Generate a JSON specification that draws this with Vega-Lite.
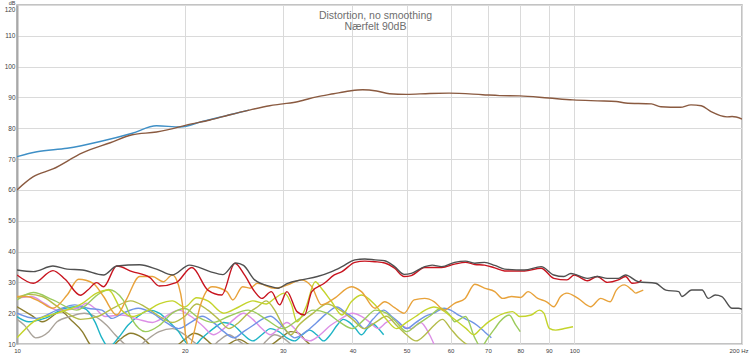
{
  "$schema": "https://vega.github.io/schema/vega-lite/v6.json",
  "autosize": "none",
  "width": 725,
  "height": 339,
  "padding": {"left": 17, "top": 5, "right": 8, "bottom": 10},
  "background": "white",
  "config": {
    "view": {"stroke": "#b0b0b0", "strokeWidth": 1.5},
    "font": "Liberation Sans",
    "axis": {"labelFont": "Liberation Sans", "labelFontSize": 6.5, "labelColor": "#404040", "ticks": false, "labelPadding": 2, "gridColor": "#dadada", "gridWidth": 1, "domain": false, "titleFont": "Liberation Sans", "titleFontSize": 6.5, "titleFontWeight": "normal", "titleColor": "#404040"}
  },
  "title": {
    "text": "Distortion, no smoothing",
    "subtitle": "Nærfelt 90dB",
    "anchor": "middle",
    "offset": -32,
    "dx": -4,
    "fontSize": 10.5,
    "fontWeight": "normal",
    "color": "#6e6e6e",
    "subtitleFontSize": 10.5,
    "subtitleColor": "#6e6e6e",
    "subtitlePadding": 0,
    "font": "Liberation Sans",
    "subtitleFont": "Liberation Sans"
  },
  "data": {"values": [
    {"s":"01","f":10,"v":22.1},{"s":"01","f":10.6,"v":19.4},{"s":"01","f":11.1,"v":17.2},{"s":"01","f":12,"v":20.5},{"s":"01","f":12.5,"v":17.8},{"s":"01","f":13.1,"v":14},{"s":"01","f":13.5,"v":10},{"s":"01","f":13.9,"v":7},{"s":"01","f":14.6,"v":8},{"s":"01","f":15.2,"v":11},{"s":"01","f":16,"v":13.5},{"s":"01","f":16.8,"v":12},{"s":"01","f":17.5,"v":9},{"s":"01","f":18.3,"v":7.5},{"s":"01","f":19.2,"v":9},{"s":"01","f":20,"v":11.5},{"s":"01","f":20.8,"v":13.5},{"s":"01","f":21.5,"v":12.5},{"s":"01","f":22.3,"v":10},{"s":"01","f":23,"v":8},{"s":"01","f":24,"v":10},{"s":"01","f":25,"v":11.5},{"s":"01","f":26,"v":10},{"s":"01","f":27,"v":8},{"s":"01","f":28,"v":8.5},{"s":"01","f":29,"v":10.5},{"s":"01","f":30,"v":12.5},{"s":"01","f":31,"v":14},{"s":"01","f":32,"v":13.5},{"s":"01","f":33,"v":11},{"s":"01","f":34,"v":9},{"s":"01","f":35,"v":8},
    {"s":"02","f":10,"v":18},{"s":"02","f":10.3,"v":16.2},{"s":"02","f":10.8,"v":12},{"s":"02","f":11.4,"v":14},{"s":"02","f":11.8,"v":17.2},{"s":"02","f":12.5,"v":19},{"s":"02","f":13.2,"v":20},{"s":"02","f":13.8,"v":19},{"s":"02","f":14.5,"v":16},{"s":"02","f":15,"v":13},{"s":"02","f":15.6,"v":10},{"s":"02","f":16.2,"v":8},{"s":"02","f":17,"v":11},{"s":"02","f":18,"v":14},{"s":"02","f":19,"v":15},{"s":"02","f":20,"v":13},{"s":"02","f":21,"v":10},{"s":"02","f":22,"v":8},{"s":"02","f":23,"v":11},{"s":"02","f":24,"v":13},{"s":"02","f":25,"v":11},{"s":"02","f":26,"v":9},{"s":"02","f":27,"v":8},{"s":"02","f":28,"v":11},{"s":"02","f":29,"v":13},{"s":"02","f":30,"v":12},{"s":"02","f":31,"v":10},{"s":"02","f":32,"v":8},
    {"s":"03","f":10,"v":18.9},{"s":"03","f":10.5,"v":17.2},{"s":"03","f":11.2,"v":18.3},{"s":"03","f":12.2,"v":21.6},{"s":"03","f":12.7,"v":22.1},{"s":"03","f":13.2,"v":21.6},{"s":"03","f":13.8,"v":17.2},{"s":"03","f":14.2,"v":12},{"s":"03","f":14.6,"v":9},{"s":"03","f":15.2,"v":12},{"s":"03","f":15.8,"v":16},{"s":"03","f":16.5,"v":19},{"s":"03","f":17.3,"v":21},{"s":"03","f":18,"v":20},{"s":"03","f":18.8,"v":17},{"s":"03","f":19.5,"v":14},{"s":"03","f":20,"v":11},{"s":"03","f":20.6,"v":9},{"s":"03","f":21.5,"v":12},{"s":"03","f":22.5,"v":15},{"s":"03","f":23.5,"v":17},{"s":"03","f":24.5,"v":16},{"s":"03","f":25.5,"v":13},{"s":"03","f":26.5,"v":11},{"s":"03","f":27.5,"v":13},{"s":"03","f":28.5,"v":15},{"s":"03","f":29.5,"v":14},{"s":"03","f":30.5,"v":12},{"s":"03","f":31.5,"v":11},{"s":"03","f":32.5,"v":13},{"s":"03","f":33.5,"v":14.5},{"s":"03","f":34.5,"v":13},{"s":"03","f":35.5,"v":11},{"s":"03","f":36.5,"v":13},{"s":"03","f":37.5,"v":16},{"s":"03","f":38.5,"v":18},{"s":"03","f":39.5,"v":17},{"s":"03","f":40.5,"v":15},{"s":"03","f":41.5,"v":13},{"s":"03","f":42.5,"v":15},{"s":"03","f":43.5,"v":16.5},{"s":"03","f":44.5,"v":15},{"s":"03","f":45.5,"v":13},
    {"s":"04","f":10,"v":24.8},{"s":"04","f":10.6,"v":25.4},{"s":"04","f":11.2,"v":23.2},{"s":"04","f":11.8,"v":21},{"s":"04","f":12.9,"v":21.6},{"s":"04","f":13.3,"v":23.2},{"s":"04","f":13.8,"v":21.6},{"s":"04","f":14.4,"v":18.9},{"s":"04","f":15.4,"v":19.4},{"s":"04","f":16.5,"v":18},{"s":"04","f":17.5,"v":17},{"s":"04","f":18.5,"v":19},{"s":"04","f":19.5,"v":21},{"s":"04","f":20.5,"v":19},{"s":"04","f":21.5,"v":16},{"s":"04","f":22.5,"v":13},{"s":"04","f":23.5,"v":15},{"s":"04","f":24.5,"v":18},{"s":"04","f":25.5,"v":20},{"s":"04","f":26.5,"v":18},{"s":"04","f":27.5,"v":15},{"s":"04","f":28.5,"v":13},{"s":"04","f":29.5,"v":15},{"s":"04","f":30.5,"v":17},{"s":"04","f":31.5,"v":15},{"s":"04","f":32.5,"v":12},{"s":"04","f":33.5,"v":11},{"s":"04","f":35,"v":13},{"s":"04","f":36.5,"v":16},{"s":"04","f":38,"v":18},{"s":"04","f":40,"v":20},{"s":"04","f":41.5,"v":19},{"s":"04","f":43,"v":17},{"s":"04","f":44.5,"v":15},{"s":"04","f":46,"v":17},{"s":"04","f":47.5,"v":18},{"s":"04","f":49,"v":16},{"s":"04","f":51,"v":15},{"s":"04","f":53,"v":17},{"s":"04","f":55,"v":13},{"s":"04","f":56,"v":10},
    {"s":"05","f":10,"v":20},{"s":"05","f":10.8,"v":18.3},{"s":"05","f":11.8,"v":21},{"s":"05","f":12.7,"v":22.7},{"s":"05","f":13.4,"v":21.6},{"s":"05","f":14.2,"v":21},{"s":"05","f":14.8,"v":18.3},{"s":"05","f":15.5,"v":20},{"s":"05","f":16.5,"v":21.6},{"s":"05","f":17.5,"v":20},{"s":"05","f":18.5,"v":17},{"s":"05","f":19.5,"v":15},{"s":"05","f":20.5,"v":17},{"s":"05","f":21.5,"v":19},{"s":"05","f":22.5,"v":17},{"s":"05","f":23.5,"v":14},{"s":"05","f":24.5,"v":12},{"s":"05","f":25.5,"v":14},{"s":"05","f":26.5,"v":16},{"s":"05","f":27.5,"v":18},{"s":"05","f":28.5,"v":19},{"s":"05","f":29.5,"v":17},{"s":"05","f":30.5,"v":14},{"s":"05","f":31.5,"v":12},{"s":"05","f":33,"v":14},{"s":"05","f":34.5,"v":17},{"s":"05","f":36,"v":20},{"s":"05","f":37.5,"v":22},{"s":"05","f":39,"v":20},{"s":"05","f":40.5,"v":18},{"s":"05","f":42,"v":15},{"s":"05","f":43.5,"v":18},{"s":"05","f":45.5,"v":21},{"s":"05","f":47,"v":19},{"s":"05","f":48.5,"v":17},{"s":"05","f":50,"v":15},{"s":"05","f":52,"v":17},{"s":"05","f":54,"v":19},{"s":"05","f":56,"v":20},{"s":"05","f":58.4,"v":21.6},{"s":"05","f":60,"v":21},{"s":"05","f":62,"v":19.4},{"s":"05","f":64,"v":18},{"s":"05","f":65.5,"v":17.2},{"s":"05","f":67,"v":16},{"s":"05","f":69,"v":14},{"s":"05","f":71,"v":12},
    {"s":"06","f":10,"v":25},{"s":"06","f":10.5,"v":26.1},{"s":"06","f":11.1,"v":25.4},{"s":"06","f":11.7,"v":22.7},{"s":"06","f":12.3,"v":20},{"s":"06","f":13,"v":18},{"s":"06","f":14,"v":19},{"s":"06","f":15,"v":22},{"s":"06","f":16,"v":24},{"s":"06","f":17,"v":22},{"s":"06","f":18,"v":19},{"s":"06","f":19,"v":17},{"s":"06","f":20,"v":19},{"s":"06","f":21,"v":23},{"s":"06","f":22,"v":21},{"s":"06","f":23,"v":18},{"s":"06","f":24,"v":15},{"s":"06","f":25,"v":17},{"s":"06","f":26,"v":20},{"s":"06","f":27,"v":22},{"s":"06","f":28,"v":24},{"s":"06","f":29,"v":21},{"s":"06","f":30,"v":16},{"s":"06","f":31,"v":13},{"s":"06","f":32,"v":16},{"s":"06","f":34,"v":20},{"s":"06","f":36,"v":23},{"s":"06","f":38,"v":21},{"s":"06","f":40,"v":18},{"s":"06","f":42,"v":15},{"s":"06","f":44,"v":17},{"s":"06","f":46,"v":19},{"s":"06","f":48,"v":16},{"s":"06","f":50,"v":13},{"s":"06","f":52,"v":11},{"s":"06","f":54,"v":13},{"s":"06","f":56,"v":16},{"s":"06","f":58,"v":18},{"s":"06","f":60,"v":15},{"s":"06","f":62,"v":12},{"s":"06","f":64,"v":10},{"s":"06","f":66,"v":9},
    {"s":"07","f":10,"v":24.3},{"s":"07","f":10.7,"v":26.7},{"s":"07","f":11.6,"v":24.3},{"s":"07","f":12.8,"v":21},{"s":"07","f":14.1,"v":26.5},{"s":"07","f":14.6,"v":27.7},{"s":"07","f":15.5,"v":24.3},{"s":"07","f":16.1,"v":17.8},{"s":"07","f":17,"v":14},{"s":"07","f":18,"v":16},{"s":"07","f":19,"v":20},{"s":"07","f":20,"v":21.5},{"s":"07","f":21,"v":19},{"s":"07","f":22.5,"v":17},{"s":"07","f":24,"v":19},{"s":"07","f":26,"v":21},{"s":"07","f":28,"v":18},{"s":"07","f":30,"v":15},{"s":"07","f":32,"v":18},{"s":"07","f":34,"v":21},{"s":"07","f":36,"v":20},{"s":"07","f":38,"v":17},{"s":"07","f":40,"v":15},{"s":"07","f":42,"v":18},{"s":"07","f":44,"v":21},{"s":"07","f":46,"v":20},{"s":"07","f":48,"v":17},{"s":"07","f":50,"v":14},{"s":"07","f":52,"v":16},{"s":"07","f":55,"v":19},{"s":"07","f":57.7,"v":21.6},{"s":"07","f":60,"v":19},{"s":"07","f":61,"v":17.2},{"s":"07","f":63.8,"v":18.9},{"s":"07","f":66.3,"v":12},{"s":"07","f":68,"v":9},{"s":"07","f":70,"v":12},{"s":"07","f":72,"v":15},{"s":"07","f":73.5,"v":17.2},{"s":"07","f":76.4,"v":19.4},{"s":"07","f":78.5,"v":16.2},{"s":"07","f":80,"v":14},
    {"s":"08","f":10,"v":12},{"s":"08","f":10.7,"v":17.2},{"s":"08","f":11.8,"v":20},{"s":"08","f":13.1,"v":23.2},{"s":"08","f":13.9,"v":26.5},{"s":"08","f":14.6,"v":27.5},{"s":"08","f":15.4,"v":21},{"s":"08","f":16.1,"v":18.9},{"s":"08","f":17,"v":20.5},{"s":"08","f":18,"v":23},{"s":"08","f":19,"v":24},{"s":"08","f":20,"v":22},{"s":"08","f":21,"v":25},{"s":"08","f":22,"v":24},{"s":"08","f":23.5,"v":20},{"s":"08","f":25,"v":22},{"s":"08","f":26.5,"v":24},{"s":"08","f":28,"v":23},{"s":"08","f":29,"v":24.8},{"s":"08","f":30.2,"v":26.5},{"s":"08","f":31.1,"v":22.7},{"s":"08","f":31.8,"v":17.2},{"s":"08","f":33,"v":22},{"s":"08","f":34.3,"v":30.2},{"s":"08","f":35.2,"v":28},{"s":"08","f":36.7,"v":23.7},{"s":"08","f":38.3,"v":19.4},{"s":"08","f":39.8,"v":23.7},{"s":"08","f":41.5,"v":25.9},{"s":"08","f":43.9,"v":22.7},{"s":"08","f":46,"v":18},{"s":"08","f":48,"v":15},{"s":"08","f":50,"v":17},{"s":"08","f":52,"v":19},{"s":"08","f":54,"v":21},{"s":"08","f":56,"v":22},{"s":"08","f":58,"v":21},{"s":"08","f":60,"v":19},{"s":"08","f":62,"v":17},{"s":"08","f":64,"v":15},{"s":"08","f":66,"v":13},{"s":"08","f":68,"v":15},{"s":"08","f":70,"v":17},{"s":"08","f":72,"v":18.5},{"s":"08","f":75,"v":20},{"s":"08","f":77.5,"v":20.5},{"s":"08","f":79.8,"v":18.9},{"s":"08","f":83.7,"v":19.4},{"s":"08","f":86.6,"v":21},{"s":"08","f":88.2,"v":20},{"s":"08","f":90.2,"v":15.1},{"s":"08","f":92.6,"v":14.5},{"s":"08","f":96.5,"v":15.1},{"s":"08","f":99.5,"v":15.6},
    {"s":"09","f":10,"v":25.4},{"s":"09","f":10.4,"v":25.4},{"s":"09","f":11,"v":23.7},{"s":"09","f":11.6,"v":21.6},{"s":"09","f":12.3,"v":25.9},{"s":"09","f":12.9,"v":31},{"s":"09","f":13.7,"v":29.7},{"s":"09","f":14.3,"v":25.4},{"s":"09","f":15.1,"v":19.4},{"s":"09","f":15.7,"v":24.3},{"s":"09","f":16.6,"v":31.9},{"s":"09","f":17.5,"v":31.9},{"s":"09","f":18.3,"v":30.2},{"s":"09","f":19,"v":32.4},{"s":"09","f":19.5,"v":29},{"s":"09","f":19.8,"v":23.2},{"s":"09","f":20.1,"v":12},{"s":"09","f":20.4,"v":9},{"s":"09","f":20.8,"v":14},{"s":"09","f":21.3,"v":22.1},{"s":"09","f":22.4,"v":28.6},{"s":"09","f":23.8,"v":27},{"s":"09","f":24.4,"v":24.3},{"s":"09","f":25.4,"v":28.6},{"s":"09","f":26.2,"v":28.1},{"s":"09","f":27,"v":29.7},{"s":"09","f":29,"v":28.1},{"s":"09","f":30.6,"v":29.2},{"s":"09","f":32.4,"v":30.8},{"s":"09","f":33.8,"v":28.6},{"s":"09","f":35.2,"v":22.7},{"s":"09","f":37.1,"v":24.8},{"s":"09","f":39.8,"v":28.6},{"s":"09","f":41.5,"v":27},{"s":"09","f":43.9,"v":21.6},{"s":"09","f":45.7,"v":23.7},{"s":"09","f":47.6,"v":21.8},{"s":"09","f":49.5,"v":20},{"s":"09","f":51.6,"v":24.3},{"s":"09","f":53.9,"v":24.8},{"s":"09","f":56.1,"v":23.7},{"s":"09","f":58.4,"v":21},{"s":"09","f":61,"v":23.2},{"s":"09","f":63.7,"v":24.8},{"s":"09","f":66.3,"v":29.4},{"s":"09","f":69,"v":28.1},{"s":"09","f":72,"v":27},{"s":"09","f":74.4,"v":24.8},{"s":"09","f":77.2,"v":25.4},{"s":"09","f":80.2,"v":25.1},{"s":"09","f":82.6,"v":27},{"s":"09","f":86,"v":24.8},{"s":"09","f":89.2,"v":23.7},{"s":"09","f":91.9,"v":22.1},{"s":"09","f":94.5,"v":25.4},{"s":"09","f":97,"v":26.5},{"s":"09","f":101.6,"v":24.8},{"s":"09","f":107,"v":22.1},{"s":"09","f":111.6,"v":24.8},{"s":"09","f":116,"v":23.7},{"s":"09","f":119,"v":27.5},{"s":"09","f":123,"v":29.2},{"s":"09","f":127,"v":27.5},{"s":"09","f":129,"v":26.5},{"s":"09","f":131,"v":27},{"s":"09","f":133,"v":27.5},
    {"s":"10","f":10,"v":32.4},{"s":"10","f":10.7,"v":29.7},{"s":"10","f":11.6,"v":33.8},{"s":"10","f":12.2,"v":31},{"s":"10","f":13,"v":25.8},{"s":"10","f":13.4,"v":27.5},{"s":"10","f":13.9,"v":29.9},{"s":"10","f":14.3,"v":28.6},{"s":"10","f":15.1,"v":35.3},{"s":"10","f":16.1,"v":33.5},{"s":"10","f":17.3,"v":31.6},{"s":"10","f":18,"v":28.8},{"s":"10","f":19.3,"v":29.9},{"s":"10","f":20.6,"v":34.8},{"s":"10","f":22,"v":27.5},{"s":"10","f":23.3,"v":25.9},{"s":"10","f":24.6,"v":36.2},{"s":"10","f":25.6,"v":32.4},{"s":"10","f":26.7,"v":27},{"s":"10","f":27.5,"v":24.8},{"s":"10","f":28.6,"v":27},{"s":"10","f":29.6,"v":22.7},{"s":"10","f":30.5,"v":27},{"s":"10","f":31.8,"v":20.5},{"s":"10","f":32.8,"v":19.4},{"s":"10","f":33.8,"v":27},{"s":"10","f":35.6,"v":29.7},{"s":"10","f":37.1,"v":32.4},{"s":"10","f":38.3,"v":33.5},{"s":"10","f":40.4,"v":36.5},{"s":"10","f":42.1,"v":36.9},{"s":"10","f":43.9,"v":36.7},{"s":"10","f":45.7,"v":36.3},{"s":"10","f":47.6,"v":34.6},{"s":"10","f":49.5,"v":31.9},{"s":"10","f":51,"v":32.2},{"s":"10","f":53.9,"v":34.8},{"s":"10","f":57.8,"v":34.8},{"s":"10","f":61,"v":35.9},{"s":"10","f":63.8,"v":36.5},{"s":"10","f":66.3,"v":35.8},{"s":"10","f":69,"v":35.6},{"s":"10","f":72,"v":34.7},{"s":"10","f":75,"v":33.7},{"s":"10","f":81.4,"v":33.7},{"s":"10","f":87.2,"v":34.6},{"s":"10","f":91.9,"v":31.3},{"s":"10","f":97,"v":30.8},{"s":"10","f":100,"v":32.4},{"s":"10","f":105.6,"v":30.5},{"s":"10","f":110,"v":31.9},{"s":"10","f":114.6,"v":30},{"s":"10","f":120,"v":30.8},{"s":"10","f":123.6,"v":31.9},{"s":"10","f":127,"v":29.7},{"s":"10","f":130,"v":29.9},{"s":"10","f":132,"v":30.8},
    {"s":"11","f":10,"v":34},{"s":"11","f":10.7,"v":33.5},{"s":"11","f":11.6,"v":35.3},{"s":"11","f":12.3,"v":34.3},{"s":"11","f":13.1,"v":34},{"s":"11","f":14.3,"v":32.4},{"s":"11","f":15.1,"v":35.3},{"s":"11","f":16.6,"v":35.7},{"s":"11","f":17.8,"v":34.3},{"s":"11","f":19,"v":32.4},{"s":"11","f":20.4,"v":35.6},{"s":"11","f":22.2,"v":33.5},{"s":"11","f":23.4,"v":32.5},{"s":"11","f":24.7,"v":36.3},{"s":"11","f":25.5,"v":35.5},{"s":"11","f":26.7,"v":30.8},{"s":"11","f":28.6,"v":28.6},{"s":"11","f":29.4,"v":28.1},{"s":"11","f":30.6,"v":29.7},{"s":"11","f":32.4,"v":30.8},{"s":"11","f":34.6,"v":31.9},{"s":"11","f":36.7,"v":33.5},{"s":"11","f":38.3,"v":35.1},{"s":"11","f":40.4,"v":37.3},{"s":"11","f":42.1,"v":37.6},{"s":"11","f":43.9,"v":37.3},{"s":"11","f":45.7,"v":37},{"s":"11","f":47.6,"v":35.1},{"s":"11","f":49.5,"v":32.6},{"s":"11","f":51,"v":32.9},{"s":"11","f":53.9,"v":35.1},{"s":"11","f":55.6,"v":35.6},{"s":"11","f":57.8,"v":35.1},{"s":"11","f":61,"v":36.5},{"s":"11","f":63.8,"v":36.9},{"s":"11","f":66.3,"v":36.2},{"s":"11","f":69,"v":36.5},{"s":"11","f":72,"v":35.5},{"s":"11","f":75,"v":34.3},{"s":"11","f":81.4,"v":34},{"s":"11","f":87.2,"v":35.1},{"s":"11","f":91.9,"v":32.4},{"s":"11","f":95.8,"v":31.9},{"s":"11","f":98.6,"v":32.9},{"s":"11","f":105.6,"v":31.3},{"s":"11","f":110,"v":31.9},{"s":"11","f":114.6,"v":31.3},{"s":"11","f":120,"v":31.3},{"s":"11","f":123.6,"v":32.4},{"s":"11","f":130.3,"v":30.2},{"s":"11","f":140,"v":29.7},{"s":"11","f":146,"v":27.5},{"s":"11","f":154,"v":27},{"s":"11","f":156,"v":25.4},{"s":"11","f":162.5,"v":27.5},{"s":"11","f":169.6,"v":27.5},{"s":"11","f":174,"v":24.8},{"s":"11","f":179,"v":25.9},{"s":"11","f":184,"v":25.4},{"s":"11","f":192,"v":21.6},{"s":"11","f":197,"v":21.6},{"s":"11","f":200,"v":21.3},
    {"s":"12","f":10,"v":70.8},{"s":"12","f":10.86,"v":72.4},{"s":"12","f":12.3,"v":73.5},{"s":"12","f":14.1,"v":75.7},{"s":"12","f":16.1,"v":78.4},{"s":"12","f":17.8,"v":80.8},{"s":"12","f":19.6,"v":80.4},{"s":"12","f":21.5,"v":82.2},{"s":"12","f":23,"v":83.5},{"s":"12","f":24,"v":84.3},{"s":"12","f":26.1,"v":85.9},
    {"s":"13","f":10,"v":60},{"s":"13","f":10.68,"v":64.2},{"s":"13","f":11.6,"v":66.8},{"s":"13","f":13.1,"v":72},{"s":"13","f":14.7,"v":75.3},{"s":"13","f":16.1,"v":77.9},{"s":"13","f":17.8,"v":78.8},{"s":"13","f":18.6,"v":79.5},{"s":"13","f":20.2,"v":81.1},{"s":"13","f":22.2,"v":82.7},{"s":"13","f":24,"v":84.3},{"s":"13","f":26.1,"v":85.9},{"s":"13","f":28.4,"v":87.3},{"s":"13","f":30,"v":87.9},{"s":"13","f":32,"v":88.7},{"s":"13","f":34.5,"v":90.2},{"s":"13","f":37,"v":91.2},{"s":"13","f":39.5,"v":92.1},{"s":"13","f":41.7,"v":92.5},{"s":"13","f":44.2,"v":92.1},{"s":"13","f":46.6,"v":91.2},{"s":"13","f":50,"v":91},{"s":"13","f":55,"v":91.3},{"s":"13","f":59.6,"v":91.4},{"s":"13","f":68.5,"v":90.9},{"s":"13","f":73.5,"v":90.6},{"s":"13","f":79.8,"v":90.5},{"s":"13","f":90,"v":89.8},{"s":"13","f":99.5,"v":89.2},{"s":"13","f":110,"v":88.9},{"s":"13","f":119,"v":88.7},{"s":"13","f":123.6,"v":88.2},{"s":"13","f":137.6,"v":87.9},{"s":"13","f":143,"v":87},{"s":"13","f":155,"v":86.8},{"s":"13","f":162,"v":87.6},{"s":"13","f":169,"v":87.3},{"s":"13","f":176,"v":85.4},{"s":"13","f":188,"v":83.7},{"s":"13","f":192,"v":83.8},{"s":"13","f":200,"v":83}
  ]},
  "mark": {"type": "line", "interpolate": "monotone", "strokeWidth": 1.4, "clip": true},
  "encoding": {
    "x": {"field": "f", "type": "quantitative", "scale": {"type": "log", "domain": [10, 200], "nice": false},
      "axis": {"values": [10, 20, 30, 40, 50, 60, 70, 80, 90, 100, 200], "labelExpr": "datum.value == 200 ? '200 Hz' : datum.label", "title": null, "labelFontSize": 6, "labelFlush": false, "labelPadding": 3,
        "labelAlign": {"condition": {"test": "datum.value == 200", "value": "right"}, "value": "center"},
        "labelOffset": {"condition": {"test": "datum.value == 200", "value": 6}, "value": 0}}},
    "y": {"field": "v", "type": "quantitative", "scale": {"domain": [10, 120], "nice": false, "zero": false},
      "axis": {"values": [10, 20, 30, 40, 50, 60, 70, 80, 90, 100, 110, 120], "labelFlush": false,
        "labelBaseline": {"condition": {"test": "datum.value == 120", "value": "top"}, "value": "middle"},
        "labelOffset": {"condition": {"test": "datum.value == 120", "value": 1}, "value": 0},
        "title": "dB", "titleAngle": 0, "titleAlign": "right", "titleBaseline": "top", "titleX": -2, "titleY": -5, "titleFontSize": 5.5, "domain": true, "domainColor": "#a8a8a8", "domainWidth": 2}},
    "color": {"field": "s", "type": "nominal", "legend": null,
      "scale": {"domain": ["01","02","03","04","05","06","07","08","09","10","11","12","13"],
        "range": ["#8c7d2e","#aaa39a","#1fb4c6","#dc8fe6","#6f94e6","#b4bc4a","#9ccb5c","#c4d42c","#e8a23a","#c8141f","#505050","#3e8fc6","#8a5a40"]}},
    "order": {"field": "f", "type": "quantitative"}
  }
}
